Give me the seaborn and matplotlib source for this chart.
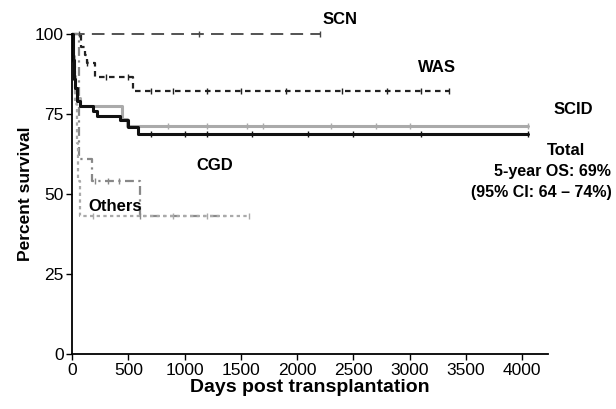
import matplotlib
matplotlib.use('Agg')
import matplotlib.pyplot as plt
import seaborn as sns
import pandas as pd

# step curves (days, percent survival)
scn_days = [0, 2200]
scn_surv = [100, 100]
scn_cens = [60, 1130, 2200]

was_days = [0, 77, 116, 130, 204, 545, 3350]
was_surv = [100, 96, 93.5, 91, 86.7, 82.3, 82.3]
was_cens = [130, 300, 500, 700, 900, 1200, 1500, 1900, 2400, 2800, 3100, 3350]

scid_days = [0, 5, 15, 30, 45, 70, 441, 486, 4050]
scid_surv = [100, 93, 87, 82, 80, 77.6, 73.4, 71.3, 71.3]
scid_cens = [850, 1200, 1550, 1700, 2300, 2700, 3000, 4050]

total_days = [0, 5, 15, 25, 42, 71, 190, 219, 427, 500, 590, 4050]
total_surv = [100, 92, 86, 83, 79, 77.6, 76, 74.4, 73, 70.8, 68.9, 68.9]
total_cens = [700, 1000, 1200, 1600, 2100, 2500, 3100, 4050]

cgd_days = [0, 60, 181, 604, 1400]
cgd_surv = [100, 61, 54, 43, 43]
cgd_cens = [200, 320, 420, 604]

oth_days = [0, 10, 25, 40, 55, 70, 1570]
oth_surv = [100, 90, 78, 66, 54, 43, 43]
oth_cens = [190, 900, 1200, 1570]

series = [
    ('SCN', scn_days, scn_surv, scn_cens, '#444444', (0, (7, 4)), 1.3),
    ('WAS', was_days, was_surv, was_cens, '#222222', (0, (2.5, 2)), 1.6),
    ('CGD', cgd_days, cgd_surv, cgd_cens, '#888888', (0, (4, 2, 1, 2)), 1.6),
    ('Others', oth_days, oth_surv, oth_cens, '#aaaaaa', (0, (1.5, 1.5)), 1.6),
    ('SCID', scid_days, scid_surv, scid_cens, '#aaaaaa', '-', 2.2),
    ('Total', total_days, total_surv, total_cens, '#111111', '-', 2.2),
]

sns.set_style('ticks')
plt.rcParams['font.family'] = ['Liberation Sans', 'DejaVu Sans']
plt.rcParams['text.color'] = 'black'
plt.rcParams['axes.labelcolor'] = 'black'

fig = plt.figure(figsize=(6.16, 4.09), dpi=100)
ax = fig.add_axes([0.117, 0.134, 0.773, 0.783])

for name, d, s, c, col, ls, lw in series:
    df = pd.DataFrame({'days': d, 'surv': s})
    sns.lineplot(data=df, x='days', y='surv', ax=ax, estimator=None, sort=False,
                 drawstyle='steps-post', color=col, linestyle=ls, linewidth=lw,
                 clip_on=False)
    # censor marks sit on the step curve
    cs = pd.DataFrame({'days': c})
    cs['surv'] = [s[max(i for i, t in enumerate(d) if t <= x)] for x in c]
    sns.scatterplot(data=cs, x='days', y='surv', ax=ax, marker='|', s=25,
                    color=col, linewidth=1.0, clip_on=False, zorder=3)

ax.set_xlim(0, 4230)
ax.set_ylim(0, 100)
ax.set_xticks(range(0, 4001, 500))
ax.set_yticks([0, 25, 50, 75, 100])
ax.tick_params(labelsize=12.5, length=4, width=1, pad=2, direction='out',
               color='black', labelcolor='black')
for sp in ['left', 'bottom']:
    ax.spines[sp].set_linewidth(1.3)
    ax.spines[sp].set_color('black')
sns.despine(ax=ax)
ax.set_xlabel('Days post transplantation', fontsize=14, fontweight='bold', labelpad=1)
ax.set_ylabel('Percent survival', fontsize=12.5, fontweight='bold', labelpad=1)

kw = dict(fontsize=12, fontweight='bold', ha='center', va='center', clip_on=False)
ax.text(2380, 104.5, 'SCN', **kw)
ax.text(3244, 89.5, 'WAS', **kw)
ax.text(4453, 76.5, 'SCID', **kw)
ax.text(4391, 63.5, 'Total', **kw)
rk = dict(kw, fontsize=11.5, ha='right')
ax.text(4790, 57, '5-year OS: 69%', **rk)
ax.text(4790, 50.4, '(95% CI: 64 \u2013 74%)', **rk)
ax.text(1271, 59, 'CGD', **kw)
ax.text(382, 46, 'Others', **kw)

fig.savefig('out.png', dpi=100)
